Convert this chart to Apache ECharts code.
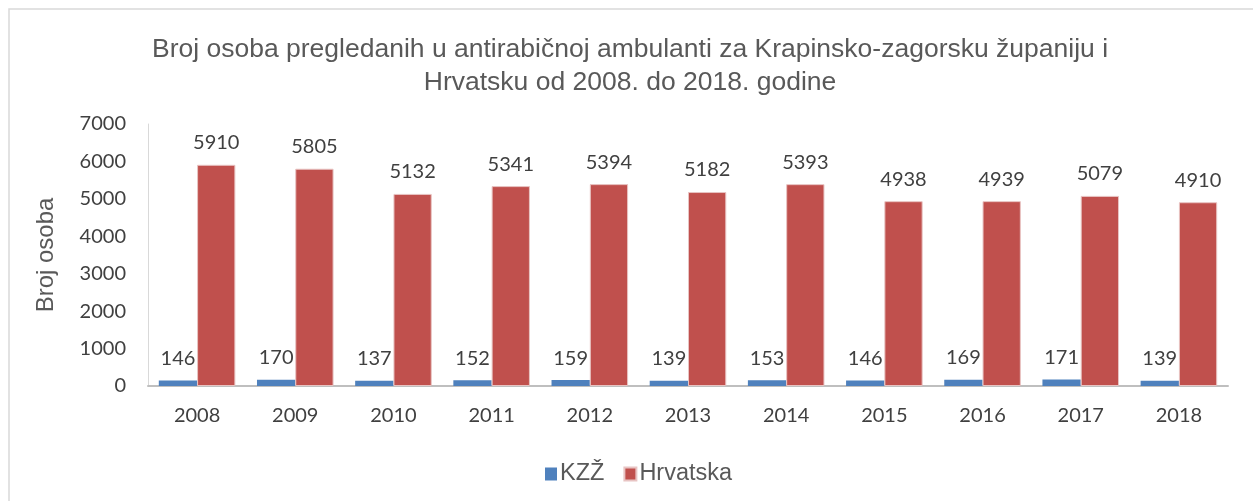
<!DOCTYPE html>
<html>
<head>
<meta charset="utf-8">
<script src="https://cdn.jsdelivr.net/npm/echarts@6/dist/echarts.min.js"></script>
<style>html,body{margin:0;padding:0;background:#fff}#c{width:1253px;height:501px}</style>
</head>
<body>
<div id="c"></div>
<script>
const years = ['2008','2009','2010','2011','2012','2013','2014','2015','2016','2017','2018'];
const kzz = [146,170,137,152,159,139,153,146,169,171,139];
const hrvatska = [5910,5805,5132,5341,5394,5182,5393,4938,4939,5079,4910];
const yTicks = [0,1000,2000,3000,4000,5000,6000,7000];

const chart = echarts.init(document.getElementById('c'), null, {renderer:'canvas'});
const labelStyle = {show:true, position:'top', distance:12, fontFamily:'Lato', fontSize:20, color:'#404040'};
chart.setOption({
  backgroundColor:'#fff',
  animation:false,
  graphic:[{type:'rect', shape:{x:9,y:9,width:1300,height:600}, style:{fill:'none', stroke:'#d9d9d9', lineWidth:1.5}, silent:true}],
  title:{
    text:'Broj osoba pregledanih u antirabičnoj ambulanti za Krapinsko-zagorsku županiju i\nHrvatsku od 2008. do 2018. godine',
    left:625, top:28, textAlign:'center',
    textStyle:{fontFamily:'Liberation Sans', fontSize:26.5, fontWeight:'normal', color:'#595959', lineHeight:33}
  },
  legend:{
    data:['KZŽ','Hrvatska'], left:540, top:457, icon:'rect', itemWidth:12, itemHeight:13, itemGap:19,
    textStyle:{fontFamily:'Liberation Sans', fontSize:23.5, color:'#595959', padding:[0,0,0,-2]}
  },
  grid:{left:148, right:25, top:124, bottom:115, containLabel:false},
  xAxis:{
    type:'category', data:years,
    axisLine:{lineStyle:{color:'#bfbfbf', width:2}},
    axisTick:{show:false},
    axisLabel:{fontFamily:'Lato', fontSize:20, color:'#404040', margin:20}
  },
  yAxis:{
    type:'value', min:yTicks[0], max:yTicks[yTicks.length-1], interval:1000,
    name:'Broj osoba', nameLocation:'middle', nameGap:90,
    nameTextStyle:{fontFamily:'Liberation Sans', fontSize:24, color:'#595959'},
    axisLine:{show:true, lineStyle:{color:'#d9d9d9', width:1}},
    axisTick:{show:false},
    splitLine:{show:false},
    axisLabel:{fontFamily:'Lato', fontSize:20, color:'#404040', margin:22, formatter:v=>String(v)}
  },
  series:[
    {name:'KZŽ', type:'bar', data:kzz, barGap:'0%', barCategoryGap:'22%',
     itemStyle:{color:'#4f81bd'}, label:labelStyle},
    {name:'Hrvatska', type:'bar', data:hrvatska, barGap:'0%', barCategoryGap:'22%',
     itemStyle:{color:'#c0504d', borderColor:'#e8c4c3', borderWidth:1}, label:labelStyle}
  ]
});
</script>
</body>
</html>
